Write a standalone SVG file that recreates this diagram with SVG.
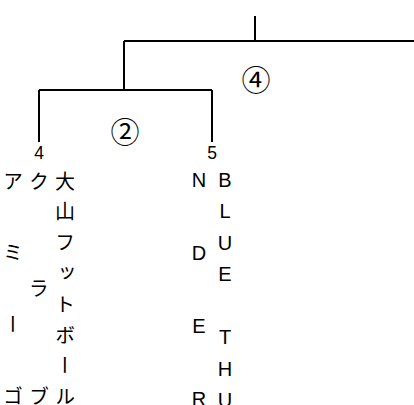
<svg xmlns="http://www.w3.org/2000/svg" width="414" height="405" viewBox="0 0 414 405">
<style>
.ln{stroke:#000;stroke-width:2;fill:none}
.jp{font-family:"Noto Sans CJK JP","Noto Sans CJK SC",sans-serif;font-size:20px;fill:#000;writing-mode:vertical-rl}
.en{font-family:"Liberation Sans",Arial,sans-serif;font-size:20px;fill:#000;text-anchor:middle}
.num{font-family:"Liberation Sans",Arial,sans-serif;font-size:17.5px;fill:#000;text-anchor:middle}
.cir{font-family:"Noto Sans CJK JP","Noto Sans CJK SC",sans-serif;font-size:29px;fill:#000;text-anchor:middle;dominant-baseline:central}
</style>
<rect width="414" height="405" fill="#fff"/>
<g id="connectors">
<path class="ln" d="M255,16V41M124,41H414M124,41V90M39,90H212M39,90V142M212,90V142"/>
</g>
<g id="merge4"><text class="cir" x="256" y="78">④</text></g>
<g id="merge2"><text class="cir" x="125" y="130">②</text></g>
<g id="leaf4">
<text class="num" x="39" y="158.5">4</text>
<text class="jp" x="65" y="171">大</text>
<text class="jp" x="65" y="201.8">山</text>
<text class="jp" x="65" y="232.6">フ</text>
<text class="jp" x="65" y="263.4">ッ</text>
<text class="jp" x="65" y="294.2">ト</text>
<text class="jp" x="65" y="325">ボ</text>
<text class="jp" x="65" y="355.8">ー</text>
<text class="jp" x="65" y="386.6">ル</text>
<text class="jp" x="39" y="171">ク</text>
<text class="jp" x="39" y="278.8">ラ</text>
<text class="jp" x="39" y="386.6">ブ</text>
<text class="jp" x="13" y="171">ア</text>
<text class="jp" x="13" y="242.9">ミ</text>
<text class="jp" x="13" y="314.7">ー</text>
<text class="jp" x="13" y="386.6">ゴ</text>
</g>
<g id="leaf5">
<text class="num" x="212" y="158.5">5</text>
<text class="en" x="225" y="186.5">B</text>
<text class="en" x="225" y="218">L</text>
<text class="en" x="225" y="249.5">U</text>
<text class="en" x="225" y="281">E</text>
<text class="en" x="225" y="344">T</text>
<text class="en" x="225" y="375.5">H</text>
<text class="en" x="225" y="407">U</text>
<text class="en" x="199" y="186.5">N</text>
<text class="en" x="199" y="259.8">D</text>
<text class="en" x="199" y="333.1">E</text>
<text class="en" x="199" y="406.4">R</text>
</g>
</svg>
